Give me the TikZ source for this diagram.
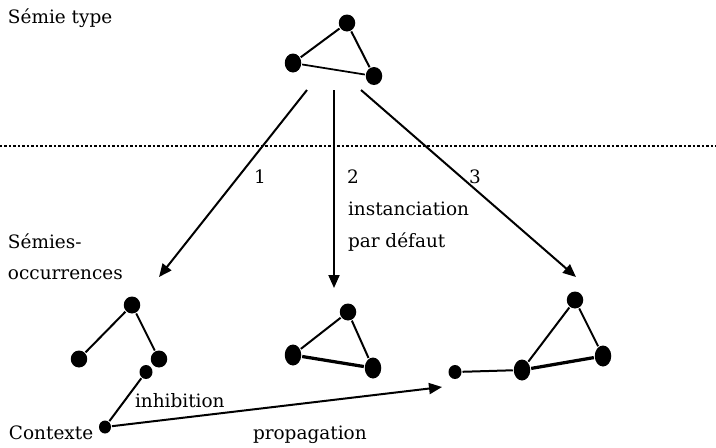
\documentclass[tikz,border=0pt]{standalone}
\usepackage{fontspec}
\setmainfont{DejaVu Serif}
\usetikzlibrary{arrows.meta,shapes.geometric}

\begin{document}
\begin{tikzpicture}[x=0.02cm,y=-0.02cm,
        line width=0.04cm,
        every node/.style={font=\fontsize{10.5}{12}\selectfont},
        dot/.style={ellipse,fill,inner sep=0,minimum width=0.33cm,minimum height=0.34cm},
        talldot/.style={dot,minimum height=0.42cm},
        smalldot/.style={dot,minimum width=0.26cm,minimum height=0.28cm},
        txt/.style={anchor=base west,inner sep=0},
        fat/.style={line width=0.065cm},
        inst/.style={-{Triangle[length=0.26cm,width=0.22cm]}}
        ]
        \useasboundingbox (0,0) rectangle (716,447);

        % the type
        \node[dot] (t1) at (347,23) {};
        \node[dot,minimum height=0.38cm] (t2) at (293,63) {};
        \node[dot,minimum height=0.36cm] (t3) at (374,76) {};
        \draw (t1) -- (t2);
        \draw (t1) -- (t3);
        \draw[line width=0.035cm] (t2) -- (t3);
        \node[txt] (type) at (7,23) {Sémie type};

        % the separation
        \coordinate (sepL) at (0,146);
        \coordinate (sepR) at (716,146);
        \draw[line width=0.05cm,dash pattern=on 0.05cm off 0.04cm] (sepL) -- (sepR);

        % the instanciations
        \coordinate (s1) at (307,90);
        \coordinate (s2) at (334,90);
        \coordinate (s3) at (361,90);
        \coordinate (e1) at (159,277);
        \coordinate (e2) at (334,288);
        \coordinate (e3) at (576,277);
        \draw[inst] (s1) -- (e1);
        \draw[inst] (s2) -- (e2);
        \draw[inst] (s3) -- (e3);
        \node[txt] (n1) at (253,183) {1};
        \node[txt] (n2) at (346,183) {2};
        \node[txt] (n3) at (468,183) {3};
        \node[txt] (inst1) at (347,215) {instanciation};
        \node[txt] (inst2) at (347,247) {par défaut};
        \node[txt] (occ1) at (7,248) {Sémies-};
        \node[txt] (occ2) at (7,279) {occurrences};

        % the first occurrence
        \node[dot] (a1) at (132,305) {};
        \node[dot] (a2) at (79,359) {};
        \node[dot] (a3) at (159,359) {};
        \node[smalldot] (a4) at (146,372) {};
        \draw (a1) -- (a2);
        \draw (a1) -- (a3);

        % the second occurrence
        \node[dot] (b1) at (348,312) {};
        \node[talldot] (b2) at (293,355) {};
        \node[talldot] (b3) at (373,368) {};
        \draw (b1) -- (b2);
        \draw (b1) -- (b3);
        \draw[fat] (b2) -- (b3);

        % the third occurrence
        \node[smalldot] (c0) at (455,372) {};
        \node[talldot] (c1) at (522,370) {};
        \node[dot] (c2) at (575,300) {};
        \node[talldot] (c3) at (603,356) {};
        \draw (c0) -- (c1);
        \draw (c1) -- (c2);
        \draw (c2) -- (c3);
        \draw[fat] (c1) -- (c3);

        % the context
        \node[smalldot,minimum width=0.24cm,minimum height=0.26cm] (ctx) at (105,427) {};
        \coordinate (pr) at (442,387);
        \draw (a4) -- (ctx);
        \draw[inst] (ctx) -- (pr);
        \node[txt] (context) at (8,439) {Contexte};
        \node[txt] (inhib) at (134,407) {inhibition};
        \node[txt] (prop) at (252,439) {propagation};
\end{tikzpicture}
\end{document}
